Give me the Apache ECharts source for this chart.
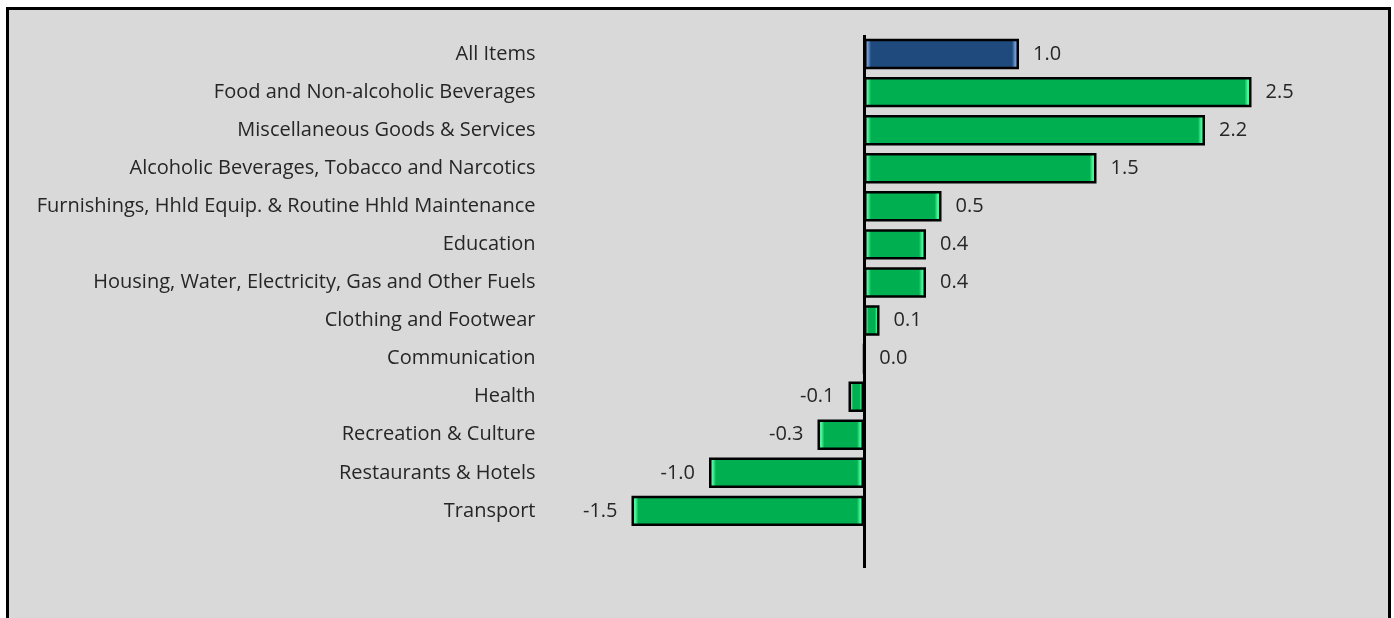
<!DOCTYPE html>
<html>
<head>
<meta charset="utf-8">
<title>CPI change by division</title>
<script src="https://cdn.jsdelivr.net/npm/echarts@6/dist/echarts.min.js"></script>
<style>
  html, body { margin: 0; padding: 0; background: #fff; }
  #chart { width: 1394px; height: 618px; }
</style>
</head>
<body>
<div id="chart"></div>
<script>
// categories top to bottom (last one is an empty slot below Transport)
const categories = [
  'All Items',
  'Food and Non-alcoholic Beverages',
  'Miscellaneous Goods & Services',
  'Alcoholic Beverages, Tobacco and Narcotics',
  'Furnishings, Hhld Equip. & Routine Hhld Maintenance',
  'Education',
  'Housing, Water, Electricity, Gas and Other Fuels',
  'Clothing and Footwear',
  'Communication',
  'Health',
  'Recreation & Culture',
  'Restaurants & Hotels',
  'Transport',
  ''
];
const values = [1.0, 2.5, 2.2, 1.5, 0.5, 0.4, 0.4, 0.1, 0.0, -0.1, -0.3, -1.0, -1.5, null];
const xMin = -1.5;
const xMax = 2.5;

const pxPerUnit = 155;
const font = 'Open Sans';

// bevel look: lighter strip on both ends of each bar
function barColor(v, i) {
  const base = i === 0 ? '#1f4a7e' : '#00b050';
  const edge = i === 0 ? '#6f9ad2' : '#4cf59a';
  const w = Math.max(Math.abs(v) * pxPerUnit, 8);
  const e = Math.min(7 / w, 0.3);
  return {
    type: 'linear', x: 0, y: 0, x2: 1, y2: 0,
    colorStops: [
      { offset: 0, color: edge },
      { offset: e * 0.55, color: edge },
      { offset: e, color: base },
      { offset: 1 - e, color: base },
      { offset: 1 - e * 0.55, color: edge },
      { offset: 1, color: edge }
    ]
  };
}

const seriesData = values.map((v, i) => {
  if (v === null) return null;
  return {
    value: v,
    itemStyle: { color: barColor(v, i) },
    label: { position: v < 0 ? 'left' : 'right' }
  };
});

const chart = echarts.init(document.getElementById('chart'));
const option = {
  backgroundColor: '#fff',
  animation: false,
  graphic: [{
    type: 'rect',
    z: -10,
    shape: { x: 7.5, y: 8.5, width: 1382, height: 700 },
    style: { fill: '#d9d9d9', stroke: '#000', lineWidth: 3 }
  }],
  grid: { left: 631.5, top: 35, width: 620, height: 533 },
  xAxis: {
    type: 'value',
    min: xMin,
    max: xMax,
    show: false
  },
  yAxis: {
    type: 'category',
    inverse: true,
    data: categories,
    axisLine: { show: false, onZero: false },
    axisTick: { show: false },
    axisLabel: {
      margin: 96,
      color: '#262626',
      fontSize: 20,
      fontFamily: font
    }
  },
  series: [{
    type: 'bar',
    data: seriesData,
    barCategoryGap: '20%',
    itemStyle: { borderColor: '#000', borderWidth: 2.5 },
    label: {
      show: true,
      distance: 14,
      color: '#262626',
      fontSize: 20,
      fontFamily: font,
      formatter: p => p.value.toFixed(1)
    },
    markLine: {
      silent: true,
      symbol: 'none',
      label: { show: false },
      lineStyle: { color: '#000', width: 3, type: 'solid' },
      data: [{ xAxis: 0 }]
    }
  }]
};
chart.setOption(option);
</script>
</body>
</html>
